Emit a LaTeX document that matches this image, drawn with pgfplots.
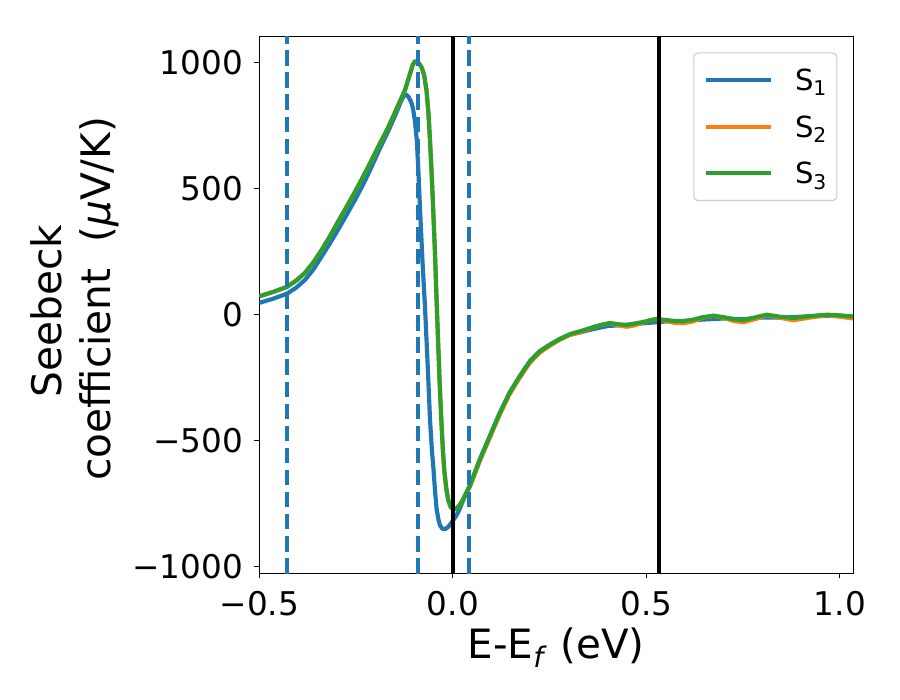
\documentclass[border=0pt]{standalone}
\usepackage{fontspec}
\setmainfont{DejaVu Sans}
\usepackage{pgfplots}
\pgfplotsset{compat=1.18}
\definecolor{c0}{RGB}{31,119,180}
\definecolor{c1}{RGB}{255,127,14}
\definecolor{c2}{RGB}{44,160,44}
\begin{document}
\begin{tikzpicture}
\useasboundingbox (-186.7bp,-91bp) rectangle (461.3bp,413bp);
\begin{axis}[
  scale only axis, width=427.5bp, height=386.8bp,
  xmin=-0.5, xmax=1.034, ymin=-1028, ymax=1105,
  xtick={-0.5,0,0.5,1}, xticklabels={−0.5,0.0,0.5,1.0},
  ytick={-1000,-500,0,500,1000}, yticklabels={−1000,−500,0,500,1000},
  tick align=outside, tick pos=left,
  major tick length=3.5bp,
  every tick/.style={black, line width=0.8bp},
  axis line style={line width=0.8bp},
  ticklabel style={font=\fontsize{23.6}{28}\selectfont},
  xticklabel style={anchor=base, inner sep=0pt, yshift=-27bp},
  yticklabel style={anchor=east, inner sep=0pt, xshift=-8.1bp},
  xlabel={E-E\textsubscript{\textit{f}} (eV)},
  xlabel style={at={(axis description cs:0.5,-0.1572)}, anchor=base, font=\fontsize{29.2}{35}\selectfont},
  ylabel={Seebeck\rule{9bp}{0pt}\\\rule{9bp}{0pt}coefficient\ \ (\textit{μ}V/K)},
  ylabel style={at={(axis description cs:-0.3109,0.5)}, anchor=center, rotate=0, align=center, font=\fontsize{29.4}{35.3}\selectfont},
  legend style={at={(axis description cs:1,1)}, anchor=north east, xshift=-11.3bp, yshift=-11.5bp,
    draw=black!20, line width=0.8bp, rounded corners=3bp, fill=white, fill opacity=0.8, text opacity=1,
    font=\fontsize{21}{25}\selectfont, inner xsep=7bp, inner ysep=7.3bp, row sep=8.8bp, column sep=16bp,
    nodes={inner sep=0pt, text height=20bp, text depth=4.7bp}},
  legend cell align=left,
  legend image code/.code={\draw[#1, line width=3bp, rounded corners=0pt] (0bp,0bp) -- (46.8bp,0bp);},
]
% S1
\addplot[c0, line width=3bp, line join=round] coordinates {
(-0.500,47) (-0.465,63) (-0.429,83) (-0.405,107) (-0.382,138) (-0.360,180) (-0.339,231) (-0.318,282) (-0.297,336) (-0.275,395) (-0.253,455) (-0.230,522) (-0.210,587) (-0.190,655) (-0.168,725) (-0.145,805) (-0.135,843) (-0.127,868) (-0.121,874) (-0.115,866) (-0.108,846) (-0.103,820) (-0.098,770) (-0.093,692) (-0.089,570) (-0.085,428) (-0.078,200) (-0.072,33) (-0.065,-200) (-0.059,-415) (-0.054,-540) (-0.050,-613) (-0.046,-700) (-0.042,-771) (-0.037,-815) (-0.033,-837) (-0.027,-850) (-0.020,-851) (-0.012,-843) (-0.003,-824) (0.006,-805) (0.014,-784) (0.022,-755) (0.030,-725) (0.044,-679)
(0.070,-574) (0.096,-481) (0.122,-388) (0.147,-309) (0.173,-244) (0.199,-185) (0.225,-145) (0.251,-119) (0.277,-96) (0.303,-79)
(0.330,-70) (0.360,-58) (0.400,-45) (0.450,-40) (0.500,-33) (0.550,-27) (0.600,-25) (0.650,-19) (0.700,-15) (0.750,-18) (0.800,-11) (0.850,-12) (0.900,-8) (0.950,-5) (1.000,-4) (1.034,-8)
};
\addlegendentry{S\textsubscript{1}}
% S2
\addplot[c1, line width=3bp, line join=round] coordinates {
(-0.500,73) (-0.465,90) (-0.429,110) (-0.405,135) (-0.382,166) (-0.360,208) (-0.339,257) (-0.318,310) (-0.297,368) (-0.275,427) (-0.253,487) (-0.230,553) (-0.210,613) (-0.190,675) (-0.168,740) (-0.146,815) (-0.124,890) (-0.116,930) (-0.110,960) (-0.104,990) (-0.098,1006) (-0.092,1004) (-0.086,995) (-0.080,980) (-0.074,950) (-0.068,890) (-0.063,800) (-0.059,692) (-0.055,570) (-0.051,428) (-0.046,240) (-0.042,60) (-0.038,-110) (-0.034,-270) (-0.030,-410) (-0.026,-530) (-0.022,-620) (-0.017,-690) (-0.012,-735) (-0.006,-762) (0.000,-772) (0.006,-772) (0.013,-764) (0.023,-744) (0.033,-714) (0.044,-683)
(0.070,-580) (0.096,-487) (0.122,-394) (0.147,-315) (0.173,-250) (0.199,-191) (0.225,-150) (0.251,-123) (0.277,-99) (0.303,-80)
(0.328,-70) (0.345,-61) (0.363,-50) (0.385,-40) (0.406,-34) (0.428,-42) (0.449,-48) (0.470,-42) (0.492,-31) (0.510,-22) (0.527,-18) (0.550,-25) (0.572,-32) (0.595,-34) (0.620,-27) (0.645,-12) (0.673,-5) (0.700,-12) (0.725,-25) (0.750,-30) (0.780,-18) (0.811,-2) (0.845,-12) (0.880,-22) (0.920,-12) (0.966,-2) (1.000,-8) (1.034,-15)
};
\addlegendentry{S\textsubscript{2}}
% S3
\addplot[c2, line width=3bp, line join=round] coordinates {
(-0.500,73) (-0.465,90) (-0.429,110) (-0.405,135) (-0.382,166) (-0.360,208) (-0.339,257) (-0.318,310) (-0.297,368) (-0.275,427) (-0.253,487) (-0.230,553) (-0.210,613) (-0.190,675) (-0.168,740) (-0.146,815) (-0.124,890) (-0.116,930) (-0.110,960) (-0.104,990) (-0.098,1006) (-0.092,1004) (-0.086,995) (-0.080,980) (-0.074,950) (-0.068,890) (-0.063,800) (-0.059,692) (-0.055,570) (-0.051,428) (-0.046,240) (-0.042,60) (-0.038,-110) (-0.034,-270) (-0.030,-410) (-0.026,-530) (-0.022,-620) (-0.017,-690) (-0.012,-735) (-0.006,-762) (0.000,-772) (0.006,-772) (0.013,-764) (0.023,-744) (0.033,-712) (0.044,-679)
(0.070,-574) (0.096,-481) (0.122,-388) (0.147,-309) (0.173,-244) (0.199,-185) (0.225,-145) (0.251,-119) (0.277,-96) (0.303,-77)
(0.328,-66) (0.345,-58) (0.363,-49) (0.385,-40) (0.406,-33) (0.428,-38) (0.449,-41) (0.470,-35) (0.492,-29) (0.510,-22) (0.527,-17) (0.550,-21) (0.572,-25) (0.595,-26) (0.620,-20) (0.645,-10) (0.673,-4) (0.700,-10) (0.725,-18) (0.750,-22) (0.780,-11) (0.811,0) (0.845,-8) (0.880,-13) (0.920,-6) (0.966,0) (1.000,-3) (1.034,-7)
};
\addlegendentry{S\textsubscript{3}}
% vertical lines
\addplot[c0, line width=3bp, dash pattern=on 11.1bp off 4.8bp, forget plot] coordinates {(-0.429,-1028) (-0.429,1105)};
\addplot[c0, line width=3bp, dash pattern=on 11.1bp off 4.8bp, forget plot] coordinates {(-0.089,-1028) (-0.089,1105)};
\addplot[black, line width=3bp, forget plot] coordinates {(0,-1028) (0,1105)};
\addplot[c0, line width=3bp, dash pattern=on 11.1bp off 4.8bp, forget plot] coordinates {(0.041,-1028) (0.041,1105)};
\addplot[black, line width=3bp, forget plot] coordinates {(0.532,-1028) (0.532,1105)};
\end{axis}
\end{tikzpicture}
\end{document}
